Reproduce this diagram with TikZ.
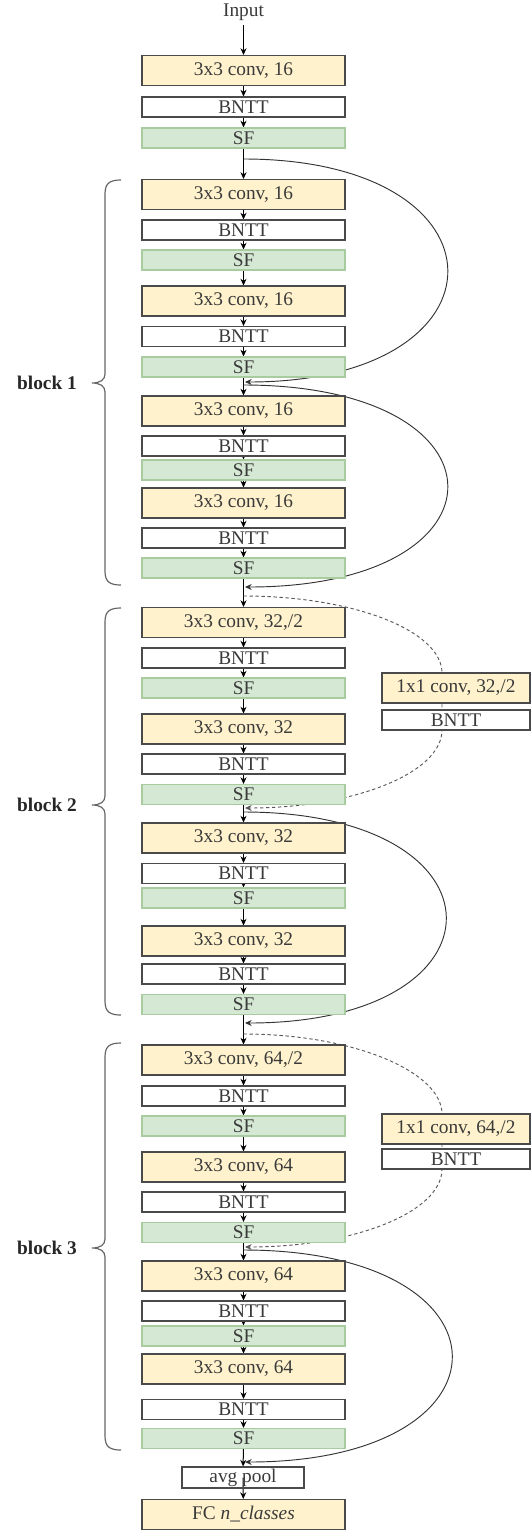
\documentclass[tikz,border=0pt]{standalone}
\usepackage{fontspec}
\setmainfont{Liberation Serif}
\usetikzlibrary{arrows.meta,backgrounds}
\definecolor{convfill}{HTML}{FFF2CC}
\definecolor{sffill}{HTML}{D5E8D4}
\definecolor{sfdraw}{HTML}{A8CC9F}
\definecolor{boxdraw}{HTML}{4A4A4A}
\definecolor{txt}{HTML}{3A3A3A}
\definecolor{linec}{HTML}{333333}
\begin{document}
\begin{tikzpicture}[x=0.75pt,y=-0.75pt,
  font=\fontsize{14.5}{16}\selectfont,
  base/.style={draw=boxdraw, line width=0.8pt, inner sep=0pt, minimum width=152.25pt, text=txt},
  conv/.style={base, fill=convfill, minimum height=22.5pt},
  bn/.style={base, fill=white, minimum height=15pt},
  sf/.style={base, draw=sfdraw, fill=sffill, minimum height=15pt},
  side/.style={minimum width=111pt},
  arr/.style={-{Stealth[length=5pt,width=4.5pt]}, line width=0.75pt, draw=black},
  skip/.style={-{Stealth[length=5pt,width=4.5pt]}, line width=0.7pt, draw=linec},
  proj/.style={skip, dash pattern=on 2.5pt off 2pt, draw=black!65},
  bracec/.style={draw=black!60, line width=0.9pt},
  lbl/.style={font=\bfseries\fontsize{14.5}{16}\selectfont, text=black!85}
]
\useasboundingbox (0,0) rectangle (531,1531);
\node[text=txt] (in) at (243.5,12) {Input};
\node[conv] (c0) at (243.5,70.5) {3x3 conv, 16};
\node[bn]   (b0) at (243.5,107) {BNTT};
\node[sf]   (s0) at (243.5,138) {SF};
% block 1
\node[conv] (c1) at (243.5,194.5) {3x3 conv, 16};
\node[bn]   (b1) at (243.5,230) {BNTT};
\node[sf]   (s1) at (243.5,260) {SF};
\node[conv] (c2) at (243.5,301) {3x3 conv, 16};
\node[bn]   (b2) at (243.5,336.5) {BNTT};
\node[sf]   (s2) at (243.5,367) {SF};
\node[conv] (c3) at (243.5,411) {3x3 conv, 16};
\node[bn]   (b3) at (243.5,446) {BNTT};
\node[sf]   (s3) at (243.5,470) {SF};
\node[conv] (c4) at (243.5,503) {3x3 conv, 16};
\node[bn]   (b4) at (243.5,538) {BNTT};
\node[sf]   (s4) at (243.5,568) {SF};
% block 2
\node[conv] (c5) at (243.5,622.5) {3x3 conv, 32,/2};
\node[bn]   (b5) at (243.5,658) {BNTT};
\node[sf]   (s5) at (243.5,688) {SF};
\node[conv] (c6) at (243.5,729) {3x3 conv, 32};
\node[bn]   (b6) at (243.5,764) {BNTT};
\node[sf]   (s6) at (243.5,794.5) {SF};
\node[conv] (c7) at (243.5,838) {3x3 conv, 32};
\node[bn]   (b7) at (243.5,873.5) {BNTT};
\node[sf]   (s7) at (243.5,898) {SF};
\node[conv] (c8) at (243.5,941) {3x3 conv, 32};
\node[bn]   (b8) at (243.5,974) {BNTT};
\node[sf]   (s8) at (243.5,1004.5) {SF};
% block 3
\node[conv] (c9)  at (243.5,1060) {3x3 conv, 64,/2};
\node[bn]   (b9)  at (243.5,1096) {BNTT};
\node[sf]   (s9)  at (243.5,1126) {SF};
\node[conv] (c10) at (243.5,1167) {3x3 conv, 64};
\node[bn]   (b10) at (243.5,1202) {BNTT};
\node[sf]   (s10) at (243.5,1232.5) {SF};
\node[conv] (c11) at (243.5,1276) {3x3 conv, 64};
\node[bn]   (b11) at (243.5,1311) {BNTT};
\node[sf]   (s11) at (243.5,1336) {SF};
\node[conv] (c12) at (243.5,1369) {3x3 conv, 64};
\node[bn]   (b12) at (243.5,1409.5) {BNTT};
\node[sf]   (s12) at (243.5,1438.5) {SF};
% head
\node[base, minimum width=91.5pt, minimum height=15.75pt] (avg) at (243,1477.5) {avg pool};
\node[conv] (fc) at (243.5,1514.5) {FC \textit{n\_classes}};
% side projections
\node[conv, side] (sc1) at (456,688) {1x1 conv, 32,/2};
\node[bn, side]   (sb1) at (456,720) {BNTT};
\node[conv, side] (sc2) at (456,1129) {1x1 conv, 64,/2};
\node[bn, side]   (sb2) at (456,1159) {BNTT};
% block labels and braces
\node[lbl] (l1) at (47,383) {block 1};
\node[lbl] (l2) at (47,805) {block 2};
\node[lbl] (l3) at (47,1248) {block 3};
\draw[bracec] (121,180) .. controls (110,180) and (105,183) .. (105,194) -- (105,374)
  .. controls (105,380) and (100,383) .. (92,383) .. controls (100,383) and (105,386) .. (105,392)
  -- (105,571) .. controls (105,582) and (110,585) .. (121,585);
\draw[bracec] (121,608) .. controls (110,608) and (105,611) .. (105,622) -- (105,796)
  .. controls (105,802) and (100,805) .. (92,805) .. controls (100,805) and (105,808) .. (105,814)
  -- (105,1001) .. controls (105,1012) and (110,1015) .. (121,1015);
\draw[bracec] (121,1043) .. controls (110,1043) and (105,1046) .. (105,1057) -- (105,1239)
  .. controls (105,1245) and (100,1248) .. (92,1248) .. controls (100,1248) and (105,1251) .. (105,1257)
  -- (105,1436) .. controls (105,1447) and (110,1450) .. (121,1450);
% connector end points
\coordinate (k1s) at (243.5,159);  \coordinate (k1e) at (245,382);
\coordinate (k2s) at (243.5,385);  \coordinate (k2e) at (245,587);
\coordinate (p1s) at (243.5,596);  \coordinate (p1a) at (442,673);
\coordinate (p1b) at (442,730);    \coordinate (p1e) at (245,808);
\coordinate (k3s) at (243.5,812);  \coordinate (k3e) at (245,1023);
\coordinate (p2s) at (243.5,1034); \coordinate (p2a) at (442,1114);
\coordinate (p2b) at (442,1169);   \coordinate (p2e) at (245,1247);
\coordinate (k4s) at (243.5,1250); \coordinate (k4e) at (245,1462);
\begin{pgfonlayer}{background}
\draw[arr] (in) -- (c0);
\foreach \a/\b in {c0/b0,b0/s0,s0/c1,c1/b1,b1/s1,s1/c2,c2/b2,b2/s2,s2/c3,c3/b3,b3/s3,s3/c4,c4/b4,b4/s4,
  s4/c5,c5/b5,b5/s5,s5/c6,c6/b6,b6/s6,s6/c7,c7/b7,b7/s7,s7/c8,c8/b8,b8/s8,
  s8/c9,c9/b9,b9/s9,s9/c10,c10/b10,b10/s10,s10/c11,c11/b11,b11/s11,s11/c12,c12/b12,b12/s12,s12/avg}
  \draw[arr] (\a) -- (\b);
\draw[arr] (avg.center) -- (fc);
\draw[skip] (k1s) .. controls (515,159) and (515,382) .. (k1e);
\draw[skip] (k2s) .. controls (515,385) and (515,587) .. (k2e);
\draw[skip] (k3s) .. controls (513,812) and (513,1023) .. (k3e);
\draw[skip] (k4s) .. controls (521,1250) and (521,1462) .. (k4e);
\draw[proj] (p1s) .. controls (354,596) and (442,631) .. (p1a) -- (p1b)
  .. controls (442,773) and (354,808) .. (p1e);
\draw[proj] (p2s) .. controls (354,1034) and (442,1072) .. (p2a) -- (p2b)
  .. controls (442,1212) and (354,1247) .. (p2e);
\end{pgfonlayer}
\end{tikzpicture}
\end{document}
